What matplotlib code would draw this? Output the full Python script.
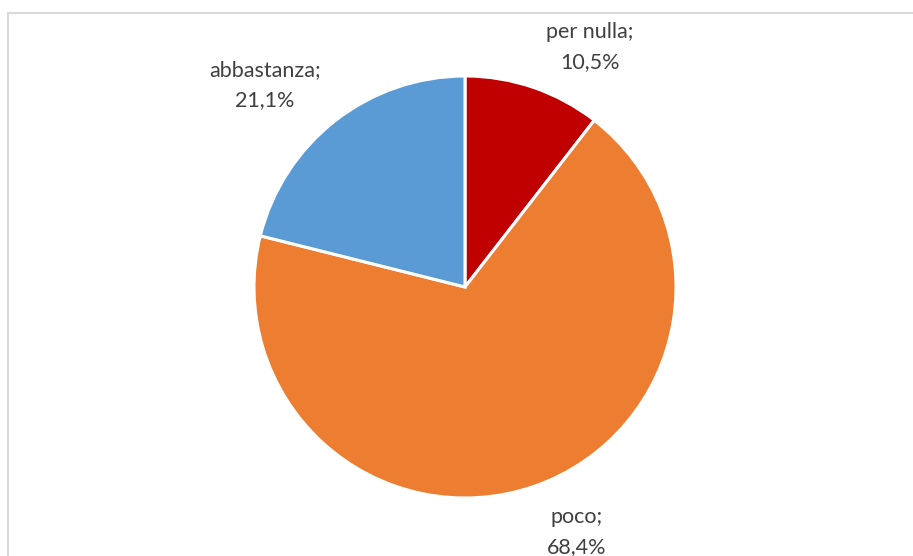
import matplotlib
matplotlib.use("Agg")
import matplotlib.pyplot as plt
from matplotlib.patches import Rectangle

categories = ["per nulla", "poco", "abbastanza"]
values = [10.5, 68.4, 21.1]
colors = ["#C00000", "#ED7D31", "#5B9BD5"]

W, H = 913, 556
fig = plt.figure(figsize=(W / 100, H / 100), dpi=100)
ax = fig.add_axes([0, 0, 1, 1])

cx, cy, r = 465, H - 287, 211
wedges, _ = ax.pie(values, colors=colors, startangle=90, counterclock=False,
                   center=(cx, cy), radius=r,
                   wedgeprops=dict(edgecolor="white", linewidth=2.2))

ax.set_xlim(0, W)
ax.set_ylim(0, H)
ax.set_aspect("equal")
ax.axis("off")

# chart-area border
ax.add_patch(Rectangle((7.5, -10), W + 20, H - 12.5 + 10, fill=False,
                       edgecolor="#D9D9D9", linewidth=1.5))

label_pos = {"per nulla": (590, 47), "poco": (577, 532), "abbastanza": (265, 85)}
for cat, v in zip(categories, values):
    x, y = label_pos[cat]
    txt = f"{cat};\n{v:.1f}%".replace(".", ",")
    ax.text(x, H - y, txt, ha="center", va="center", fontsize=15.5,
            family="Lato", color="#404040", linespacing=1.6)

fig.savefig("out.png", dpi=100)
